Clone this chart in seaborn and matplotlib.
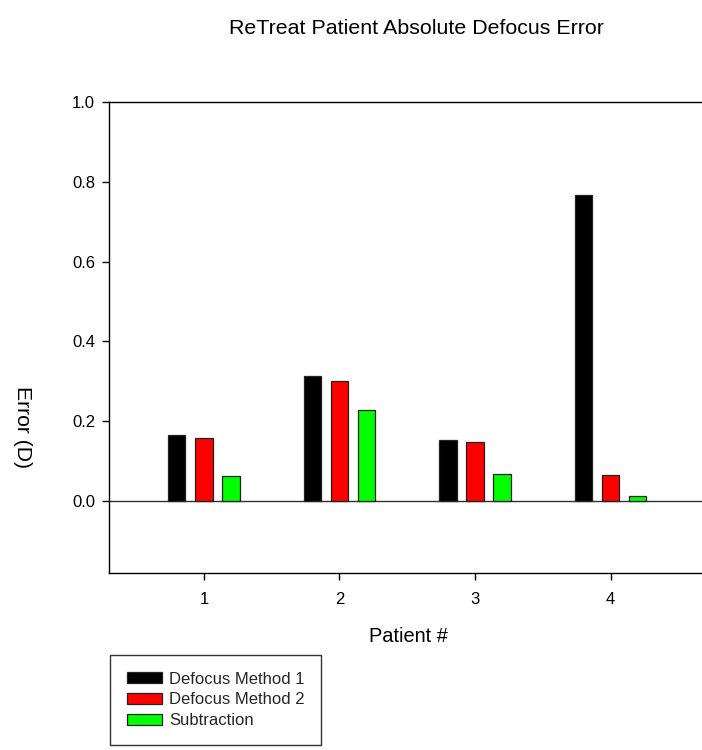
import matplotlib
matplotlib.use("Agg")
import matplotlib.pyplot as plt
import seaborn as sns
import pandas as pd

patients = ["1", "2", "3", "4"]
series_names = ["Defocus Method 1", "Defocus Method 2", "Subtraction"]
method1 = [0.166, 0.314, 0.153, 0.768]
method2 = [0.158, 0.300, 0.148, 0.066]
subtraction = [0.063, 0.228, 0.067, 0.014]
colors = ["#000000", "#FF0000", "#00FF00"]
y_ticks = [0.0, 0.2, 0.4, 0.6, 0.8, 1.0]

rows = []
for name, vals in zip(series_names, [method1, method2, subtraction]):
    for p, v in zip(patients, vals):
        rows.append({"Patient": p, "Series": name, "Error": v})
df = pd.DataFrame(rows)

sns.set_theme(style="white")
plt.rcParams["font.family"] = ["Liberation Sans", "DejaVu Sans"]

fig = plt.figure(figsize=(7.02, 7.5), dpi=100)
ax = fig.add_axes([109 / 702, 1 - 573 / 750, 1 - 109 / 702, (573 - 102) / 750])

sns.barplot(data=df, x="Patient", y="Error", hue="Series", order=patients,
            hue_order=series_names, palette=colors, saturation=1, width=0.6,
            gap=0.36, edgecolor="#222222", linewidth=0.9, ax=ax, errorbar=None)

ax.axhline(0, color="#333333", lw=1.0, zorder=0.5)
ax.set_ylim(-0.18, 1.0)
ax.set_xlim(-0.70, 3.674)
ax.set_yticks(y_ticks)
ax.set_yticklabels([f"{t:.1f}" for t in y_ticks])
ax.set_xlabel("")
ax.set_ylabel("")

for s in ["left", "bottom", "top"]:
    ax.spines[s].set_visible(True)
    ax.spines[s].set_color("black")
    ax.spines[s].set_linewidth(1.0)
ax.spines["right"].set_visible(False)
ax.tick_params(axis="both", direction="out", length=5, width=1, color="black",
               labelsize=12, labelcolor="black", pad=5)
ax.tick_params(axis="x", pad=9)
ax.tick_params(left=True, bottom=True)

fig.text(416 / 702, 1 - 28 / 750, "ReTreat Patient Absolute Defocus Error",
         ha="center", va="center", fontsize=15.4, color="black")
fig.text(408 / 702, 1 - 637 / 750, "Patient #", ha="center", va="center",
         fontsize=14.4, color="black")
fig.text(22 / 702, 1 - 427 / 750, "Error (D)", ha="center", va="center",
         rotation=-90, fontsize=15.2, color="black")

handles, labels = ax.get_legend_handles_labels()
if ax.get_legend() is not None:
    ax.get_legend().remove()
leg = fig.legend(handles, labels, loc="upper left",
                 bbox_to_anchor=(110 / 702, 1 - 655 / 750),
                 bbox_transform=fig.transFigure, frameon=True, fancybox=False,
                 edgecolor="black", fontsize=12, handlelength=2.1,
                 handleheight=0.6, labelspacing=0.35, borderpad=1.0,
                 handletextpad=0.45, borderaxespad=0)
leg.get_frame().set_linewidth(1.0)

fig.savefig("out.png", dpi=100)
